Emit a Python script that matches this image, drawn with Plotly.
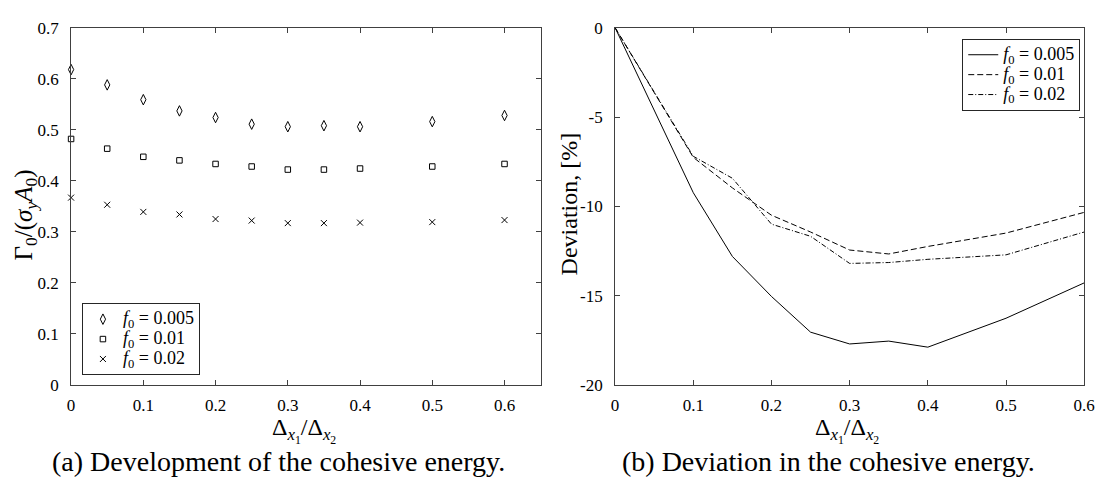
import plotly.graph_objects as go

# ---- data ----
x_left = [0, 0.05, 0.1, 0.15, 0.2, 0.25, 0.3, 0.35, 0.4, 0.5, 0.6]
gamma_f0005 = [0.618, 0.588, 0.559, 0.537, 0.524, 0.511, 0.506, 0.508, 0.506, 0.516, 0.528]
gamma_f001 = [0.482, 0.463, 0.447, 0.440, 0.433, 0.428, 0.422, 0.422, 0.424, 0.428, 0.433]
gamma_f002 = [0.367, 0.353, 0.339, 0.334, 0.325, 0.322, 0.317, 0.317, 0.318, 0.319, 0.323]

x_right = [0, 0.1, 0.15, 0.2, 0.25, 0.3, 0.35, 0.4, 0.5, 0.6]
dev_f0005 = [0, -9.24, -12.81, -15.05, -17.05, -17.71, -17.55, -17.89, -16.27, -14.29]
dev_f001 = [0, -7.26, -8.97, -10.5, -11.44, -12.45, -12.67, -12.25, -11.5, -10.34]
dev_f002 = [0, -7.2, -8.43, -11.0, -11.68, -13.2, -13.15, -12.97, -12.72, -11.44]

series_values = ["0.005", "0.01", "0.02"]

left_xticks = [0, 0.1, 0.2, 0.3, 0.4, 0.5, 0.6]
left_xticktext = ["0", "0.1", "0.2", "0.3", "0.4", "0.5", "0.6"]
left_yticks = [0, 0.1, 0.2, 0.3, 0.4, 0.5, 0.6, 0.7]
left_yticktext = ["0", "0.1", "0.2", "0.3", "0.4", "0.5", "0.6", "0.7"]
right_yticks = [0, -5, -10, -15, -20]
right_yticktext = ["0", "-5", "-10", "-15", "-20"]

W, H = 1109, 490
FONT = "Liberation Serif"
AX = "#404040"

def px_x(p):
    return p / W

def px_y(p):
    return 1 - p / H

def leg_label(v):
    return '<span style="font-size:18px"><i>f</i><sub>0</sub> = ' + v + '</span>'

fig = go.Figure()

marker_line = dict(color="black", width=1)
fig.add_trace(go.Scatter(x=x_left, y=gamma_f0005, mode="markers", name=leg_label(series_values[0]),
                         marker=dict(symbol="diamond-tall-open", size=7.5, color="black", line=marker_line),
                         cliponaxis=False, xaxis="x", yaxis="y", legend="legend"))
fig.add_trace(go.Scatter(x=x_left, y=gamma_f001, mode="markers", name=leg_label(series_values[1]),
                         marker=dict(symbol="square-open", size=5.5, color="black", line=marker_line),
                         cliponaxis=False, xaxis="x", yaxis="y", legend="legend"))
fig.add_trace(go.Scatter(x=x_left, y=gamma_f002, mode="markers", name=leg_label(series_values[2]),
                         marker=dict(symbol="x-thin-open", size=6, color="black", line=marker_line),
                         cliponaxis=False, xaxis="x", yaxis="y", legend="legend"))

fig.add_trace(go.Scatter(x=x_right, y=dev_f0005, mode="lines", name=leg_label(series_values[0]),
                         line=dict(color="black", width=1), xaxis="x2", yaxis="y2", legend="legend2"))
fig.add_trace(go.Scatter(x=x_right, y=dev_f001, mode="lines", name=leg_label(series_values[1]),
                         line=dict(color="black", width=1, dash="6px,3px"), xaxis="x2", yaxis="y2", legend="legend2"))
fig.add_trace(go.Scatter(x=x_right, y=dev_f002, mode="lines", name=leg_label(series_values[2]),
                         line=dict(color="black", width=1, dash="5px,2px,1px,2px"), xaxis="x2", yaxis="y2", legend="legend2"))

axis_common = dict(showline=True, linecolor=AX, linewidth=1, mirror="ticks", ticks="inside",
                   ticklen=5, tickcolor=AX, showgrid=False, zeroline=False,
                   tickfont=dict(family=FONT, size=17, color="black"))

ydom = [px_y(391), px_y(19.5)]
leg_font = dict(family=FONT, size=13, color="black")
fig.update_layout(
    width=W, height=H, margin=dict(l=0, r=0, t=0, b=0),
    paper_bgcolor="white", plot_bgcolor="white",
    font=dict(family=FONT, color="black"),
    xaxis=dict(domain=[px_x(68), px_x(544)], range=[0, 0.65], tickvals=left_xticks,
               ticktext=left_xticktext, anchor="y", ticklabelstandoff=5, **axis_common),
    yaxis=dict(domain=ydom, range=[0, 0.7], tickvals=left_yticks, ticktext=left_yticktext,
               anchor="x", ticklabelstandoff=8, **axis_common),
    xaxis2=dict(domain=[px_x(619.5), px_x(1095)], range=[0, 0.6], tickvals=left_xticks,
                ticktext=left_xticktext, anchor="y2", ticklabelstandoff=5, **axis_common),
    yaxis2=dict(domain=ydom, range=[-20, 0], tickvals=right_yticks, ticktext=right_yticktext,
                anchor="x2", ticklabelstandoff=8, **axis_common),
    legend=dict(x=px_x(79), y=px_y(381), xanchor="left", yanchor="bottom",
                bgcolor="white", bordercolor="#262626", borderwidth=1,
                font=leg_font, itemwidth=30, tracegroupgap=0),
    legend2=dict(x=px_x(1091), y=px_y(31), xanchor="right", yanchor="top",
                 bgcolor="white", bordercolor="#262626", borderwidth=1,
                 font=leg_font, itemwidth=30, tracegroupgap=0),
    showlegend=True,
)

annots = [
    dict(text="Δ<sub><i>x</i><sub>1</sub></sub>/Δ<sub><i>x</i><sub>2</sub></sub>", x=px_x(304), y=px_y(439),
         size=24, angle=0),
    dict(text="Δ<sub><i>x</i><sub>1</sub></sub>/Δ<sub><i>x</i><sub>2</sub></sub>", x=px_x(855), y=px_y(439),
         size=24, angle=0),
    dict(text="Γ<sub>0</sub>/(<i>σ</i><sub><i>y</i></sub><i>A</i><sub>0</sub>)", x=px_x(22), y=px_y(214),
         size=25, angle=-90),
    dict(text="Deviation, [%]", x=px_x(573), y=px_y(203), size=24, angle=-90),
    dict(text="(a) Development of the cohesive energy.", x=px_x(278), y=px_y(471), size=28, angle=0),
    dict(text="(b) Deviation in the cohesive energy.", x=px_x(836), y=px_y(471), size=28, angle=0),
]
for a in annots:
    fig.add_annotation(text=a["text"], x=a["x"], y=a["y"], xref="paper", yref="paper",
                       xanchor="center", yanchor="middle", showarrow=False, textangle=a["angle"],
                       font=dict(family=FONT, size=a["size"], color="black"))

fig.write_html("out.html", config={"displayModeBar": False},
               post_script="document.body.style.margin='0';document.body.style.overflow='hidden';")
